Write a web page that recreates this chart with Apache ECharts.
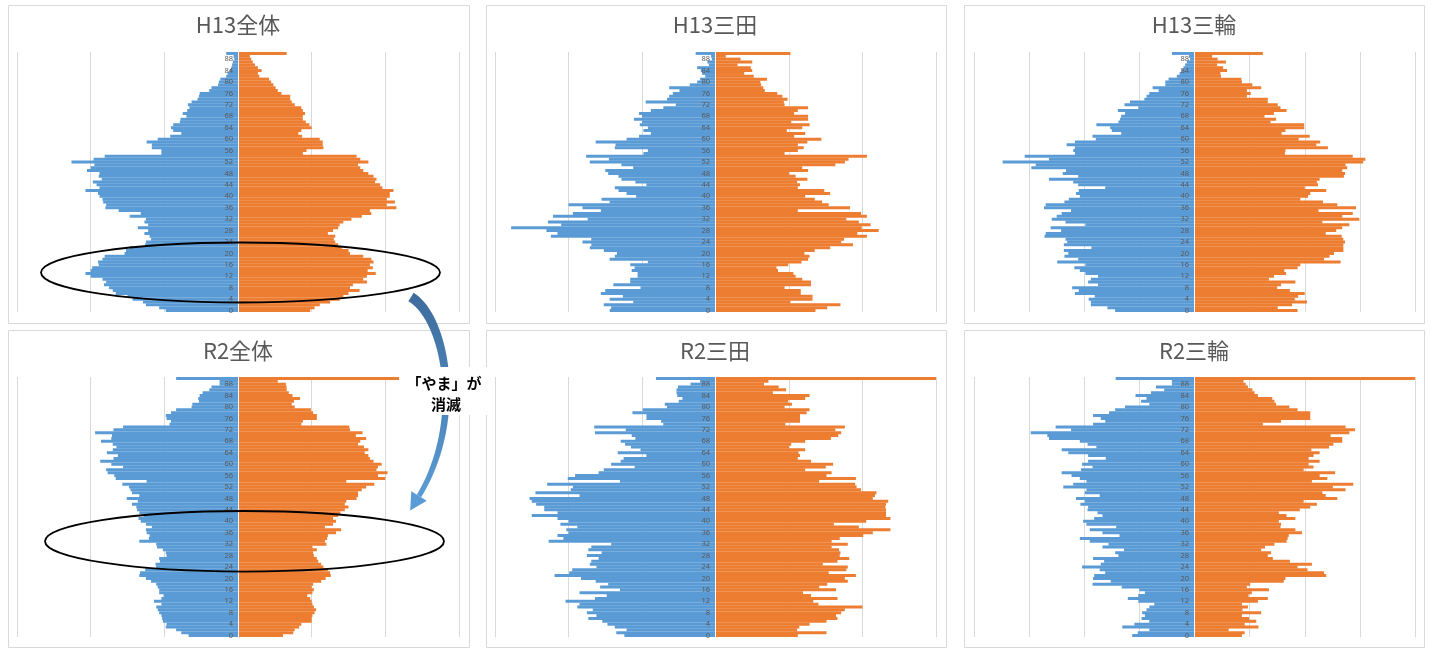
<!DOCTYPE html>
<html><head><meta charset="utf-8">
<script src="https://cdn.jsdelivr.net/npm/echarts@6/dist/echarts.min.js"></script>
<style>html,body{margin:0;padding:0;background:#fff}#c{width:1436px;height:648px}</style>
</head><body><div id="c"></div>
<script>
// ---------- DATA (ages 0 .. 90) ----------
const ages = ["0","1","2","3","4","5","6","7","8","9","10","11","12","13","14","15","16","17","18","19","20","21","22","23","24","25","26","27","28","29","30","31","32","33","34","35","36","37","38","39","40","41","42","43","44","45","46","47","48","49","50","51","52","53","54","55","56","57","58","59","60","61","62","63","64","65","66","67","68","69","70","71","72","73","74","75","76","77","78","79","80","81","82","83","84","85","86","87","88","89","90"];
const titles = ["H13全体","H13三田","H13三輪","R2全体","R2三田","R2三輪"];

const h13AllMale = [98,107,125,129,143,150,166,170,175,182,179,184,200,207,200,198,189,190,184,181,154,152,147,126,125,118,120,127,122,136,122,127,125,147,132,162,180,179,183,184,188,190,207,188,192,197,185,189,188,205,200,195,226,196,181,104,104,117,117,124,109,92,77,88,91,88,79,78,70,75,69,66,68,63,55,53,52,39,36,27,26,24,16,14,11,9,8,7,5,6,16];
const h13AllFemale = [98,104,111,125,138,143,150,165,152,156,175,170,175,187,176,183,179,184,181,170,152,150,141,136,132,130,132,122,129,136,138,143,154,168,181,179,215,202,213,202,206,206,211,196,193,186,188,184,177,170,166,163,177,166,161,88,93,116,115,115,111,87,82,86,100,97,92,88,88,91,88,86,77,73,71,71,59,54,51,48,45,42,29,27,32,27,23,20,18,16,66];

const h13MitaMale = [144,142,152,112,144,126,156,150,102,139,116,116,106,106,114,110,116,92,144,137,134,152,171,169,181,169,224,215,230,278,210,228,174,221,194,156,181,200,144,155,108,121,132,137,94,109,128,132,146,150,112,128,171,145,176,98,92,137,136,163,121,104,88,98,92,103,100,111,100,104,88,71,54,95,66,63,58,49,63,35,25,21,14,18,20,25,9,11,5,6,27];
const h13MitaFemale = [136,152,170,102,132,132,116,116,94,130,130,118,109,106,85,83,99,117,126,128,121,135,156,187,171,175,206,193,222,199,211,195,178,206,198,112,183,154,145,135,122,156,148,112,115,111,125,109,100,126,118,163,176,181,206,94,112,120,112,125,144,107,122,97,118,128,103,126,126,107,112,126,94,93,98,91,84,67,65,62,61,70,52,39,50,48,30,50,34,14,102];

const h13MinowaMale = [144,158,188,188,192,181,217,210,222,175,193,188,175,198,208,218,198,249,211,236,229,237,187,237,231,234,272,270,242,261,198,234,259,250,241,224,273,270,236,228,208,215,210,162,211,220,264,211,239,233,296,288,348,264,308,217,220,217,232,217,179,185,133,150,153,178,138,135,133,126,139,102,127,117,91,87,82,65,76,53,53,47,32,27,23,20,17,14,8,10,41];
const h13MinowaFemale = [187,151,177,204,182,188,200,173,150,157,183,135,144,166,163,187,192,265,235,245,253,270,270,270,273,270,267,238,257,268,281,232,299,268,287,225,293,259,233,192,206,210,239,200,224,222,227,271,273,268,277,274,306,310,287,164,165,242,221,228,189,209,158,165,199,199,138,148,127,144,167,156,151,133,133,95,102,95,121,105,86,85,48,47,59,52,41,57,42,32,124];

const r2AllMale = [67,77,84,98,97,102,103,104,107,109,111,104,114,104,101,107,107,109,111,118,125,134,133,126,111,112,106,107,97,98,102,110,111,134,121,120,124,125,117,125,132,135,128,134,137,138,144,136,151,134,144,146,148,157,124,166,168,177,179,156,172,187,169,163,178,170,165,170,186,172,171,194,169,156,93,91,97,98,91,84,63,62,53,54,52,48,39,36,25,25,84];
const r2AllFemale = [61,75,77,83,86,100,100,101,104,106,103,101,100,98,94,101,103,100,102,113,119,126,125,122,116,113,109,107,103,102,107,101,120,118,121,122,133,140,118,129,133,129,136,139,145,150,145,147,161,163,163,168,174,185,147,200,190,203,188,190,195,184,179,177,172,177,171,163,166,174,160,169,152,151,86,88,107,107,102,99,77,73,76,84,74,69,66,66,65,54,330];

const r2MitaMale = [124,135,121,137,147,154,173,162,175,167,188,185,204,164,148,185,130,157,146,163,183,219,199,195,162,171,169,159,175,155,173,169,142,227,207,215,200,203,188,211,200,215,250,215,233,233,244,250,253,185,245,197,194,229,130,201,191,159,152,110,142,129,125,94,133,102,115,123,129,109,114,164,122,165,71,74,94,94,113,99,66,69,50,45,52,53,53,51,34,21,81];
const r2MitaFemale = [112,151,111,114,128,151,166,164,171,176,200,140,133,166,130,119,164,141,152,180,176,191,154,178,180,146,166,182,169,170,168,158,180,158,169,201,214,238,195,161,205,238,232,232,232,231,232,235,214,217,219,198,192,190,141,191,151,158,122,150,160,130,112,115,113,122,100,103,122,157,167,171,163,176,95,115,115,115,124,128,94,104,99,122,128,78,96,86,66,72,330];

const r2MinowaMale = [113,103,82,131,109,82,96,90,95,87,82,73,102,121,102,90,100,132,185,152,184,182,162,172,204,170,164,184,138,144,128,167,156,190,208,136,167,190,142,196,202,182,167,176,194,193,207,199,215,172,199,196,238,220,196,208,223,241,206,185,204,193,161,193,229,241,178,194,208,264,267,297,224,252,184,162,170,184,155,144,126,82,97,87,107,79,55,70,41,41,143];
const r2MinowaFemale = [86,91,62,116,91,112,99,86,121,87,97,86,115,133,98,104,135,95,101,162,165,239,235,205,187,213,173,142,133,139,121,128,145,167,169,171,195,183,156,157,153,183,167,153,191,210,222,198,259,238,232,274,251,288,213,241,227,255,198,216,207,227,207,216,227,212,244,252,268,268,247,281,291,274,124,157,210,210,210,187,172,148,145,141,115,109,105,97,93,89,430];

const axisMax = [300, 300, 400, 300, 300, 400];
const maleSets = [h13AllMale, h13MitaMale, h13MinowaMale, r2AllMale, r2MitaMale, r2MinowaMale];
const femaleSets = [h13AllFemale, h13MitaFemale, h13MinowaFemale, r2AllFemale, r2MitaFemale, r2MinowaFemale];

// ---------- LAYOUT ----------
const colX = [{left:17, width:442, cx:238, box:[8,469]}, {left:495, width:441, cx:715, box:[486,946]}, {left:974, width:441, cx:1194, box:[964,1424]}];
const rowY = [{top:52, height:260, ty:25, box:[5,323]}, {top:377, height:260, ty:351, box:[330,647]}];

const grids = [], xAxes = [], yAxes = [], series = [], graphics = [];
for (let i = 0; i < 6; i++) {
  const c = colX[i % 3], r = rowY[Math.floor(i / 3)];
  grids.push({left: c.left, width: c.width, top: r.top, height: r.height, containLabel: false});
  xAxes.push({
    gridIndex: i, type: 'value', min: -axisMax[i], max: axisMax[i], interval: 100,
    axisLabel: {show: false}, axisLine: {show: false}, axisTick: {show: false},
    splitLine: {show: true, lineStyle: {color: '#d9d9d9', width: 1}}
  });
  yAxes.push({
    gridIndex: i, type: 'category', data: ages, z: 10, position: 'left', offset: -(c.cx - c.left),
    axisLine: {show: true, onZero: false, lineStyle: {color: '#ffffff', width: 1}},
    axisTick: {show: false},
    axisLabel: {interval: 3, fontSize: 7.5, color: '#595959', margin: 5, fontFamily: 'Noto Sans'},
    splitLine: {show: false}
  });
  series.push({
    type: 'bar', xAxisIndex: i, yAxisIndex: i, clip: true,
    data: maleSets[i].map(v => -v), barGap: '-100%', barWidth: 3,
    itemStyle: {color: '#5B9BD5'}, silent: true
  });
  series.push({
    type: 'bar', xAxisIndex: i, yAxisIndex: i, clip: true,
    data: femaleSets[i], barGap: '-100%', barWidth: 3,
    itemStyle: {color: '#ED7D31'}, silent: true
  });
  graphics.push({
    type: 'rect', z: 0, silent: true,
    shape: {x: c.box[0] + 0.5, y: r.box[0] + 0.5, width: c.box[1] - c.box[0], height: r.box[1] - r.box[0]},
    style: {fill: 'none', stroke: '#d9d9d9', lineWidth: 1}
  });
  graphics.push({
    type: 'text', z: 5, silent: true, x: c.cx, y: r.ty,
    style: {text: titles[i], fill: '#595959', font: '22px "Noto Sans CJK JP"', textAlign: 'center', textVerticalAlign: 'middle'}
  });
}

// ellipses
graphics.push({type: 'ellipse', z: 50, silent: true, shape: {cx: 240.5, cy: 272.5, rx: 199.5, ry: 30}, style: {fill: 'none', stroke: '#000', lineWidth: 1.8}});
graphics.push({type: 'ellipse', z: 50, silent: true, shape: {cx: 244.5, cy: 541.3, rx: 199.5, ry: 30.3}, style: {fill: 'none', stroke: '#000', lineWidth: 1.8}});

// curved arrow (band polygon + head)
(function () {
  const P = [[411, 297], [446, 318], [465, 420], [419, 496]];
  const bez = (t) => {
    const a = (1 - t) ** 3, b = 3 * (1 - t) ** 2 * t, c = 3 * (1 - t) * t * t, d = t ** 3;
    return [a * P[0][0] + b * P[1][0] + c * P[2][0] + d * P[3][0], a * P[0][1] + b * P[1][1] + c * P[2][1] + d * P[3][1]];
  };
  const left = [], right = [];
  const N = 40;
  for (let k = 0; k <= N; k++) {
    const t = k / N;
    const p = bez(t), q = bez(Math.min(1, t + 0.01)), p0 = bez(Math.max(0, t - 0.01));
    let dx = q[0] - p0[0], dy = q[1] - p0[1];
    const len = Math.hypot(dx, dy); dx /= len; dy /= len;
    const w = (10 - 5 * t) / 2;
    left.push([p[0] - dy * w, p[1] + dx * w]);
    right.push([p[0] + dy * w, p[1] - dx * w]);
  }
  const grad = new echarts.graphic.LinearGradient(0, 0, 0, 1, [{offset: 0, color: '#3E6C9C'}, {offset: 1, color: '#5B9BD5'}]);
  graphics.push({type: 'polygon', z: 60, silent: true, shape: {points: left.concat(right.reverse())}, style: {fill: grad}});
  const dir = [P[3][0] - P[2][0], P[3][1] - P[2][1]];
  const dl = Math.hypot(dir[0], dir[1]); dir[0] /= dl; dir[1] /= dl;
  const tip = [P[3][0] + dir[0] * 17, P[3][1] + dir[1] * 17];
  const hw = 9;
  graphics.push({type: 'polygon', z: 60, silent: true,
    shape: {points: [tip, [P[3][0] - dir[1] * hw, P[3][1] + dir[0] * hw], [P[3][0] + dir[1] * hw, P[3][1] - dir[0] * hw]]},
    style: {fill: '#5B9BD5'}});
})();

// text box
graphics.push({type: 'rect', z: 70, silent: true, shape: {x: 399, y: 367, width: 90, height: 48}, style: {fill: '#ffffff', stroke: 'none'}});
graphics.push({type: 'text', z: 71, silent: true, x: 444, y: 383, style: {text: '「やま」が', fill: '#000', font: 'bold 15px "Noto Sans CJK JP"', textAlign: 'center', textVerticalAlign: 'middle'}});
graphics.push({type: 'text', z: 71, silent: true, x: 446, y: 404, style: {text: '消滅', fill: '#000', font: 'bold 15px "Noto Sans CJK JP"', textAlign: 'center', textVerticalAlign: 'middle'}});

const chart = echarts.init(document.getElementById('c'), null, {renderer: 'canvas'});
chart.setOption({
  animation: false,
  backgroundColor: '#ffffff',
  grid: grids, xAxis: xAxes, yAxis: yAxes, series: series,
  graphic: {elements: graphics}
});
</script>
</body></html>
